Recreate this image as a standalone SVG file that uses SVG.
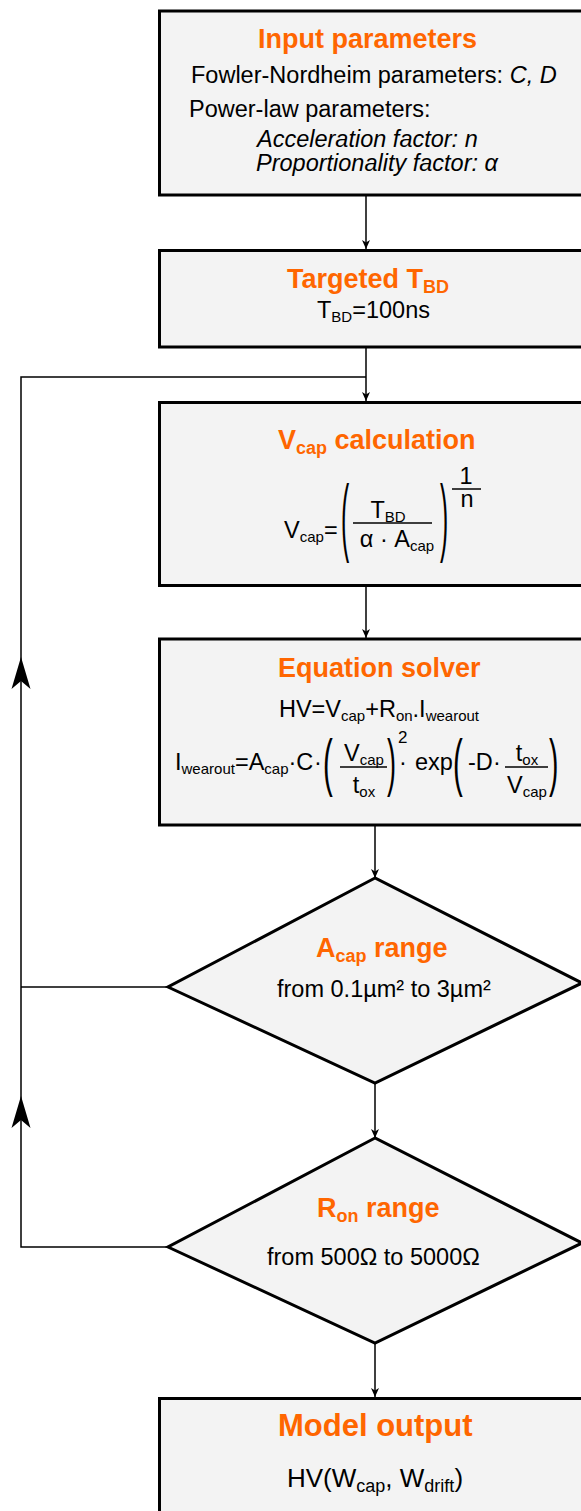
<svg xmlns="http://www.w3.org/2000/svg" width="581" height="1511" viewBox="0 0 581 1511">
<defs>
<style>
.box{fill:#f3f3f3;stroke:#000;stroke-width:3}
.con{fill:none;stroke:#000;stroke-width:1.5}
.t{font-family:"Liberation Sans",Arial,sans-serif;font-size:23.5px;fill:#000}
.h{font-family:"Liberation Sans",Arial,sans-serif;font-size:27px;font-weight:bold;fill:#FF6600}
.i{font-style:italic}
.s{font-size:15px}
.hs{font-size:18px}
.fl{stroke:#000;stroke-width:1.5}
</style>
<marker id="ar" markerUnits="userSpaceOnUse" markerWidth="10" markerHeight="10" refX="9" refY="4" orient="auto">
<path d="M0,0 L9,4 L0,8 L2.5,4 z" fill="#000"/>
</marker>
</defs>

<g id="connectors">
<line class="con" x1="366" y1="196" x2="366" y2="249" marker-end="url(#ar)"/>
<line class="con" x1="366" y1="348" x2="366" y2="401" marker-end="url(#ar)"/>
<line class="con" x1="366" y1="587" x2="366" y2="638" marker-end="url(#ar)"/>
<line class="con" x1="375" y1="826" x2="375" y2="878" marker-end="url(#ar)"/>
<line class="con" x1="375" y1="1083" x2="375" y2="1138" marker-end="url(#ar)"/>
<line class="con" x1="375" y1="1343" x2="375" y2="1397" marker-end="url(#ar)"/>
<path class="con" d="M168,1247 H21 V377 H366"/>
<path class="con" d="M168,987 H21"/>
<path d="M21,657 L30.5,689 L21,681 L11.5,689 z" fill="#000"/>
<path d="M21,1096 L30.5,1128 L21,1120 L11.5,1128 z" fill="#000"/>
</g>

<g id="input-parameters">
<rect class="box" x="159.5" y="11" width="440" height="184"/>
<text class="h" x="258" y="48">Input parameters</text>
<text class="t" x="191" y="83">Fowler-Nordheim parameters: <tspan class="i">C, D</tspan></text>
<text class="t" x="189" y="117">Power-law parameters:</text>
<text class="t i" x="257" y="147">Acceleration factor: n</text>
<text class="t i" x="256" y="171">Proportionality factor: α</text>
</g>

<g id="targeted-tbd">
<rect class="box" x="159.5" y="250.5" width="440" height="96.5"/>
<text class="h" x="287" y="288">Targeted T<tspan class="hs" dy="5">BD</tspan></text>
<text class="t" x="317" y="318">T<tspan class="s" dy="4">BD</tspan><tspan dy="-4">=100ns</tspan></text>
</g>

<g id="vcap-calculation">
<rect class="box" x="159.5" y="402.5" width="440" height="183"/>
<text class="h" x="278" y="449">V<tspan class="hs" dy="5">cap</tspan><tspan dy="-5"> calculation</tspan></text>
<text class="t" x="284" y="538">V<tspan class="s" dy="4">cap</tspan><tspan dy="-4">=</tspan></text>
<text class="t" transform="translate(341,545) scale(1.05,3.62)">(</text>
<text class="t" text-anchor="middle" x="388" y="518">T<tspan class="s" dy="4">BD</tspan></text>
<line class="fl" x1="353" y1="523" x2="432" y2="523"/>
<text class="t" text-anchor="middle" x="397" y="547">α · A<tspan class="s" dy="4">cap</tspan></text>
<text class="t" transform="translate(440,545) scale(1.05,3.62)">)</text>
<text class="t" text-anchor="middle" x="466" y="484">1</text>
<line class="fl" x1="452" y1="489" x2="481" y2="489"/>
<text class="t" text-anchor="middle" x="467" y="507">n</text>
</g>

<g id="equation-solver">
<rect class="box" x="159.5" y="639" width="440" height="186"/>
<text class="h" x="278" y="677">Equation solver</text>
<text class="t" text-anchor="middle" x="379" y="717">HV=V<tspan class="s" dy="4">cap</tspan><tspan dy="-4">+R</tspan><tspan class="s" dy="4">on</tspan><tspan dy="-4">.I</tspan><tspan class="s" dy="4">wearout</tspan></text>
<text class="t" x="175" y="770">I<tspan class="s" dy="4">wearout</tspan><tspan dy="-4">=A</tspan><tspan class="s" dy="4">cap</tspan><tspan dy="-4">·C</tspan></text>
<text class="t" x="314" y="770">·</text>
<text class="t" transform="translate(323,783.5) scale(1.25,2.71)">(</text>
<text class="t" text-anchor="middle" x="364" y="761">V<tspan class="s" dy="4">cap</tspan></text>
<line class="fl" x1="340" y1="767" x2="387" y2="767"/>
<text class="t" text-anchor="middle" x="364" y="793">t<tspan class="s" dy="4">ox</tspan></text>
<text class="t" transform="translate(387,783.5) scale(1.15,2.71)">)</text>
<text class="t" x="398" y="743" style="font-size:17px">2</text>
<text class="t" x="399" y="770">·</text>
<text class="t" x="415" y="770">exp</text>
<text class="t" transform="translate(453,783.5) scale(1.25,2.71)">(</text>
<text class="t" x="468" y="770">-D</text>
<text class="t" x="493" y="770">·</text>
<text class="t" text-anchor="middle" x="527" y="761">t<tspan class="s" dy="4">ox</tspan></text>
<line class="fl" x1="505" y1="767" x2="548" y2="767"/>
<text class="t" text-anchor="middle" x="527" y="793">V<tspan class="s" dy="4">cap</tspan></text>
<text class="t" transform="translate(549,783.5) scale(1.2,2.71)">)</text>
</g>

<g id="acap-range">
<polygon class="box" points="375,878 168,987 375,1083 582,983"/>
<text class="h" x="316" y="957">A<tspan class="hs" dy="5">cap</tspan><tspan dy="-5"> range</tspan></text>
<text class="t" x="277" y="997">from 0.1µm² to 3µm²</text>
</g>

<g id="ron-range">
<polygon class="box" points="375,1138 168,1247 375,1343 582,1243"/>
<text class="h" x="317" y="1217">R<tspan class="hs" dy="5">on</tspan><tspan dy="-5"> range</tspan></text>
<text class="t" x="267" y="1265">from 500Ω to 5000Ω</text>
</g>

<g id="model-output">
<rect class="box" x="159.5" y="1398.5" width="440" height="130"/>
<text class="h" x="278" y="1436" style="font-size:31px">Model output</text>
<text class="t" x="287" y="1487" style="font-size:26px">HV(W<tspan class="hs" dy="5" style="font-weight:normal">cap</tspan><tspan dy="-5">, W</tspan><tspan style="font-size:18px" dy="5">drift</tspan><tspan dy="-5">)</tspan></text>
</g>
</svg>
